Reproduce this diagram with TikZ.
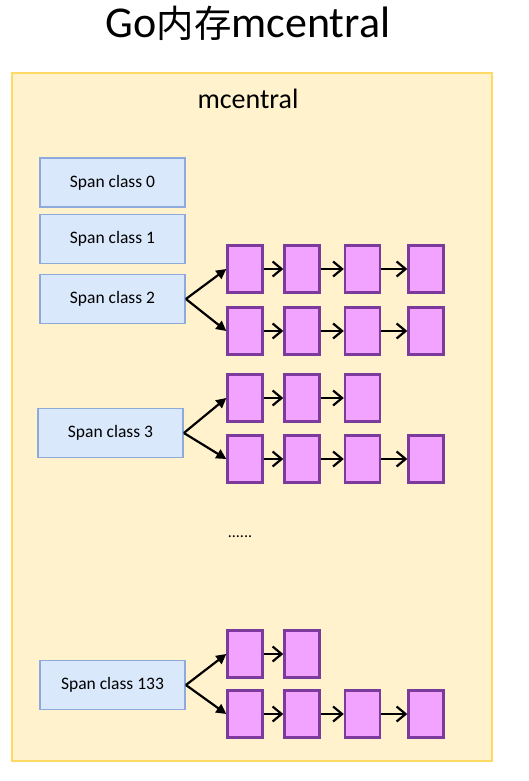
\documentclass[tikz,border=0pt]{standalone}
\usepackage{fontspec}
\setmainfont{Carlito}
\newfontfamily\cjk{Noto Sans CJK SC}[Scale=0.85]
\usetikzlibrary{arrows.meta}
\definecolor{rahmengelb}{HTML}{FFF2CC}
\definecolor{randgelb}{HTML}{FFD966}
\definecolor{klassblau}{HTML}{DAE8FC}
\definecolor{randblau}{HTML}{8EA9DB}
\definecolor{spanlila}{HTML}{F2A2FF}
\definecolor{randlila}{HTML}{7B3A9C}
\tikzset{
	klasse/.style={draw=randblau, fill=klassblau, line width=1.8pt,
		minimum width=145pt, minimum height=49pt, inner sep=0pt,
		font=\fontsize{17.5}{17.5}\selectfont},
	spanbox/.style={draw=randlila, fill=spanlila, line width=2.4pt,
		minimum width=35pt, minimum height=47pt, inner sep=0pt},
	fan/.style={line width=2.2pt, -{Triangle[length=10pt,width=10pt]}},
	kette/.style={line width=2.2pt, -{Straight Barb[length=9pt,width=15pt]}}
}
\begin{document}
\begin{tikzpicture}[x=1pt, y=-1pt]
	\useasboundingbox (0,0) rectangle (529,781);
	% Titel
	\node[anchor=base] (titel) at (248,38) {\fontsize{44}{44}\selectfont Go{\cjk 内存}mcentral};
	% Rahmen mcentral
	\filldraw[line width=2.2pt, draw=randgelb, fill=rahmengelb] (12,73) rectangle (492,761);
	\node[anchor=base] (mcentral) at (248,109) {\fontsize{28}{28}\selectfont mcentral};
	% Span classes
	\node[klasse] (sc0) at (112.5,182.5) {Span class 0};
	\node[klasse] (sc1) at (112.5,239) {Span class 1};
	\node[klasse] (sc2) at (112.5,299) {Span class 2};
	\node[klasse] (sc3) at (110.5,433) {Span class 3};
	\node[klasse] (sc133) at (112.5,685) {Span class 133};
	% Spans als Ketten
	\foreach \reihe/\y/\n in {za/269/4, zb/331/4, da/398/3, db/459/4, ha/654/2, hb/714/4} {
		\foreach \i in {1,...,\n} {
			\pgfmathsetmacro{\xpos}{{245,302,362.5,426}[\i-1]}
			\node[spanbox] (\reihe\i) at (\xpos,\y) {};
		}
		\foreach \i in {2,...,\n} {
			\pgfmathtruncatemacro{\k}{\i-1}
			\draw[kette] (\reihe\k.east) -- (\reihe\i.west);
		}
	}
	% Pfeile von den Klassen
	\draw[fan] (sc2.east) -- (za1.west);
	\draw[fan] (sc2.east) -- (zb1.west);
	\draw[fan] (sc3.east) -- (da1.west);
	\draw[fan] (sc3.east) -- (db1.west);
	\draw[fan] (sc133.east) -- (ha1.west);
	\draw[fan] (sc133.east) -- (hb1.west);
	% Auslassung
	\node[anchor=base] (punkte) at (240,537) {\fontsize{16}{16}\selectfont ......};
\end{tikzpicture}
\end{document}
